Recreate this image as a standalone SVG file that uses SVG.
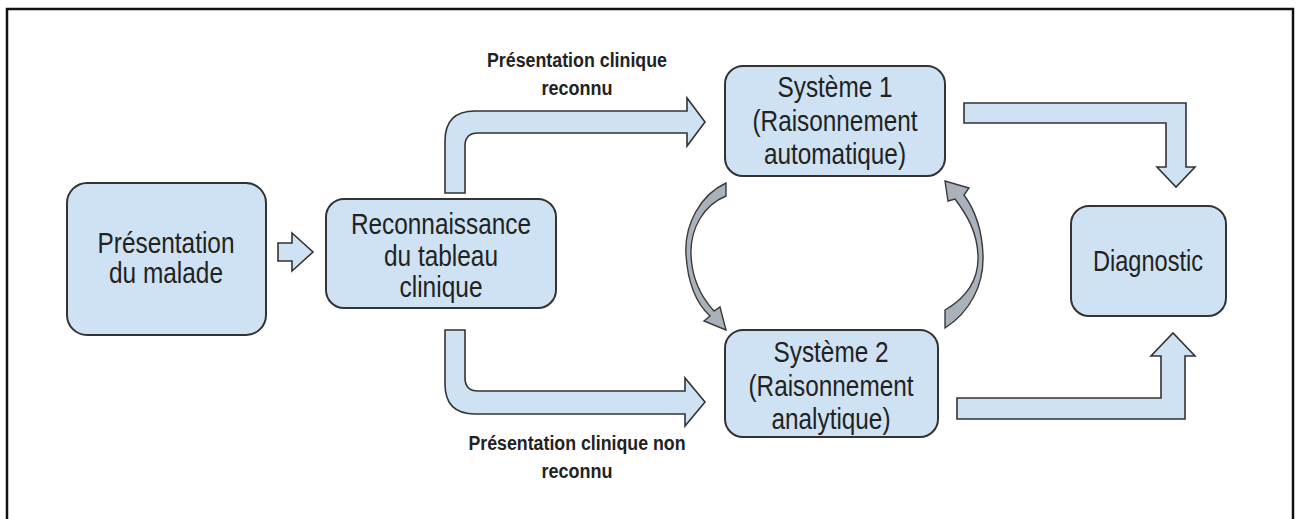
<svg xmlns="http://www.w3.org/2000/svg" width="1296" height="519" viewBox="0 0 1296 519">
<style>
.box{fill:#cfe2f3;stroke:#333;stroke-width:2}
.blk{fill:#cfe2f3;stroke:#333;stroke-width:1.6;stroke-linejoin:miter}
.crv{fill:#a9b1ba;stroke:#3a3a3a;stroke-width:1.4}
.t{font-family:"Liberation Sans",Arial,sans-serif;font-size:29px;fill:#222;text-anchor:middle}
.lb{font-family:"Liberation Sans",Arial,sans-serif;font-size:20px;font-weight:bold;fill:#222;text-anchor:middle}
</style>
<rect x="0" y="0" width="1296" height="519" fill="#fff"/>
<rect x="7" y="9" width="1286" height="530" fill="none" stroke="#111" stroke-width="2.5"/>

<g id="connectors">
  <path class="blk" d="M278,243 L292,243 L292,233 L313,252 L292,271 L292,261 L278,261 Z"/>
  <path class="blk" d="M445,193 L445,141 Q445,111 475,111 L687,111 L687,98 L705,122 L687,146 L687,133 L478,133 Q465,133 465,146 L465,193 Z"/>
  <path class="blk" d="M445,330 L465,330 L465,378 Q465,391 478,391 L685,391 L685,378 L705,402 L685,426 L685,414 L475,414 Q445,414 445,384 Z"/>
  <path class="blk" d="M964,103 L1186,103 L1186,167 L1195,167 L1176,187 L1157,167 L1166,167 L1166,123 L964,123 Z"/>
  <path class="blk" d="M957,398 L1161,398 L1161,356 L1151,356 L1173,333 L1195,356 L1185,356 L1185,419 L957,419 Z"/>
  <path class="crv" d="M726,183 C700,195 684,225 686,255 C688,285 698,305 710,316 L704,321 L726,330 L720,307 L714,311 C702,298 692,280 691,255 C690,228 704,205 726,196 Z"/>
  <path class="crv" d="M945,328 C970,312 984,285 983,255 C982,228 975,210 964,195 L969,188 L945,181 L948,201 L955,199 C967,215 977,232 978,255 C979,280 966,298 945,310 Z"/>
</g>

<g id="node-presentation">
  <rect class="box" x="67" y="183" width="199" height="152" rx="20"/>
  <text class="t" x="166" y="253" textLength="137" lengthAdjust="spacingAndGlyphs">Présentation</text>
  <text class="t" x="166" y="283" textLength="114" lengthAdjust="spacingAndGlyphs">du malade</text>
</g>

<g id="node-reconnaissance">
  <rect class="box" x="326" y="199" width="230" height="109" rx="18"/>
  <text class="t" x="441" y="234" textLength="180" lengthAdjust="spacingAndGlyphs">Reconnaissance</text>
  <text class="t" x="441" y="266" textLength="114" lengthAdjust="spacingAndGlyphs">du tableau</text>
  <text class="t" x="441" y="297" textLength="83" lengthAdjust="spacingAndGlyphs">clinique</text>
</g>

<g id="node-systeme1">
  <rect class="box" x="725" y="66" width="220" height="110" rx="18"/>
  <text class="t" x="835" y="97" textLength="115" lengthAdjust="spacingAndGlyphs">Système 1</text>
  <text class="t" x="835" y="131" textLength="165" lengthAdjust="spacingAndGlyphs">(Raisonnement</text>
  <text class="t" x="835" y="164" textLength="142" lengthAdjust="spacingAndGlyphs">automatique)</text>
</g>

<g id="node-systeme2">
  <rect class="box" x="725" y="330" width="213" height="107" rx="18"/>
  <text class="t" x="831" y="362" textLength="115" lengthAdjust="spacingAndGlyphs">Système 2</text>
  <text class="t" x="831" y="396" textLength="165" lengthAdjust="spacingAndGlyphs">(Raisonnement</text>
  <text class="t" x="831" y="429" textLength="119" lengthAdjust="spacingAndGlyphs">analytique)</text>
</g>

<g id="node-diagnostic">
  <rect class="box" x="1071" y="206" width="155" height="110" rx="18"/>
  <text class="t" x="1148" y="271" textLength="110" lengthAdjust="spacingAndGlyphs">Diagnostic</text>
</g>

<g id="labels">
  <text class="lb" x="577" y="67" textLength="180" lengthAdjust="spacingAndGlyphs">Présentation clinique</text>
  <text class="lb" x="577" y="95" textLength="71" lengthAdjust="spacingAndGlyphs">reconnu</text>
  <text class="lb" x="577" y="450" textLength="217" lengthAdjust="spacingAndGlyphs">Présentation clinique non</text>
  <text class="lb" x="577" y="478" textLength="71" lengthAdjust="spacingAndGlyphs">reconnu</text>
</g>
</svg>
